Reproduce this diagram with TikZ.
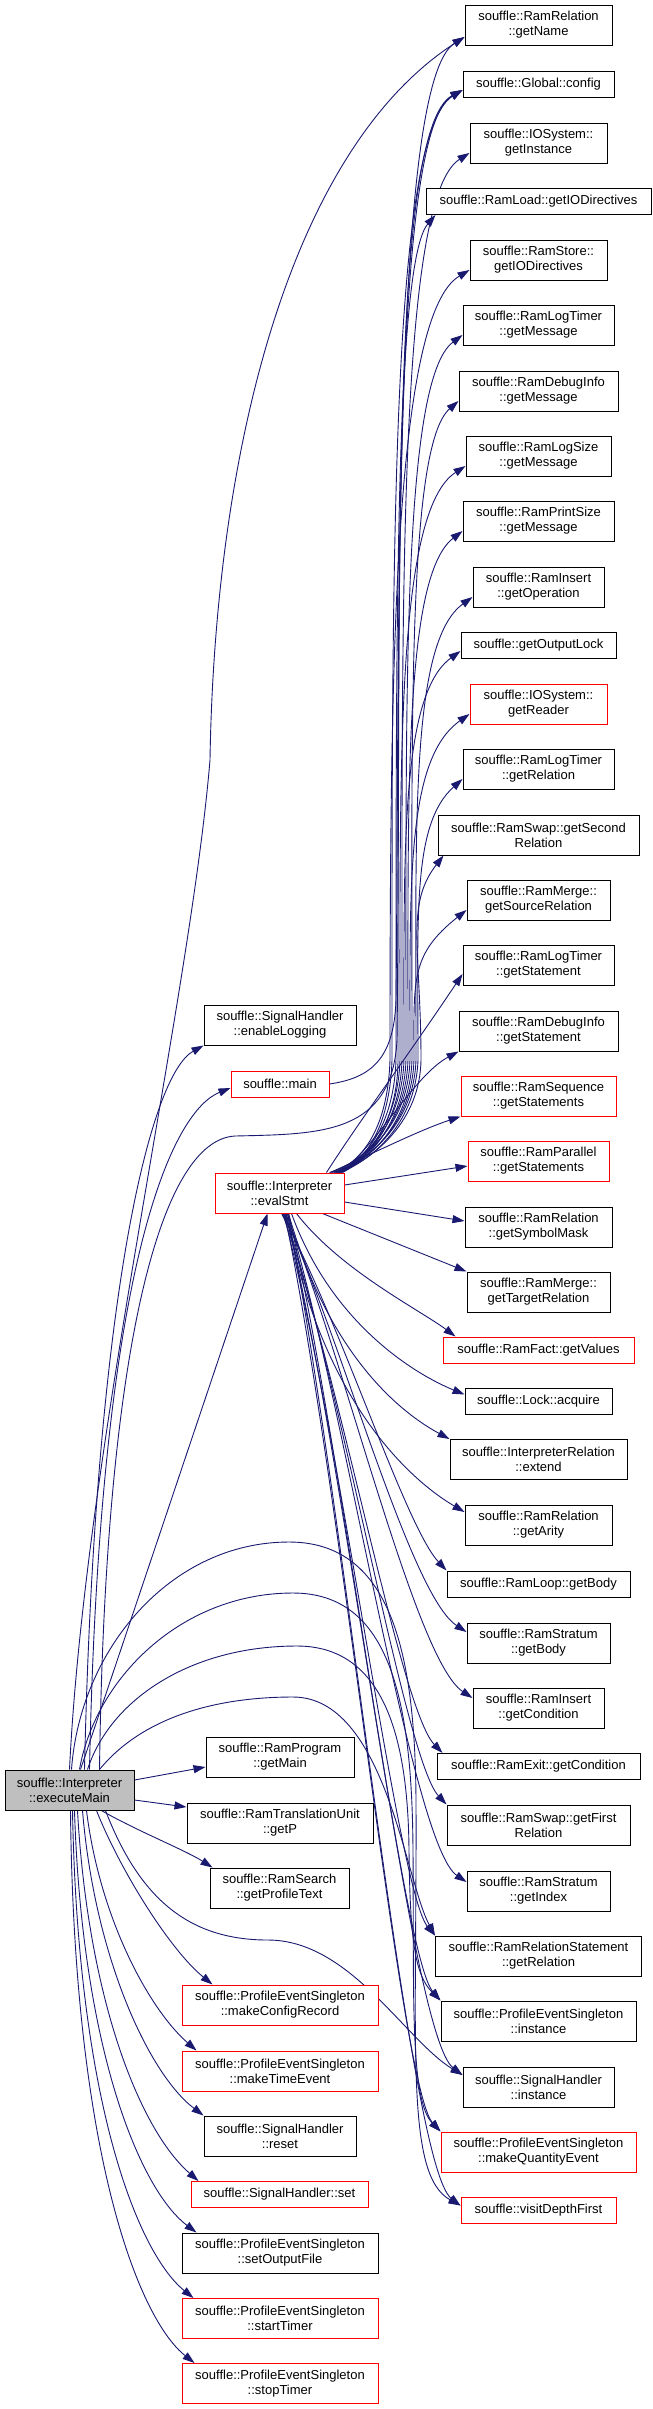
\documentclass[tikz,border=0pt]{standalone}
\usepackage{fontspec}
\setmainfont{Liberation Sans}
\usetikzlibrary{arrows.meta,backgrounds}
\definecolor{edgeblue}{HTML}{191970}
\definecolor{rootgrey}{HTML}{BFBFBF}
\newcommand{\nfont}{\fontsize{13pt}{15pt}\selectfont}
\begin{document}
\begin{tikzpicture}[x=1pt,y=-1pt,
 fn/.style={draw=black, line width=1pt, fill=white, font=\nfont, align=center, inner xsep=3pt, inner ysep=0pt, minimum height=26pt},
 two/.style={minimum height=40pt},
 trunc/.style={draw=red},
 root/.style={fill=rootgrey},
 wd/.style={minimum width=#1pt},
 call/.style={draw=edgeblue, line width=0.9pt, -{Triangle[length=12pt 0, width=8pt 0]}}
]
\useasboundingbox (0,0) rectangle (653,2409);

% right column
\node[fn,two,wd=147] (r1) at (538.5,25) {souffle::RamRelation\\::getName};
\node[fn,wd=151] (r2) at (538.5,84) {souffle::Global::config};
\node[fn,two,wd=137] (r3) at (538.5,143) {souffle::IOSystem::\\getInstance};
\node[fn,wd=225] (r4) at (538.5,201.5) {souffle::RamLoad::getIODirectives};
\node[fn,two,wd=137] (r5) at (538.5,260) {souffle::RamStore::\\getIODirectives};
\node[fn,two,wd=151] (r6) at (538.5,325) {souffle::RamLogTimer\\::getMessage};
\node[fn,two,wd=159] (r7) at (538.5,391) {souffle::RamDebugInfo\\::getMessage};
\node[fn,two,wd=145] (r8) at (538.5,456) {souffle::RamLogSize\\::getMessage};
\node[fn,two,wd=151] (r9) at (538.5,521) {souffle::RamPrintSize\\::getMessage};
\node[fn,two,wd=131] (r10) at (538.5,587) {souffle::RamInsert\\::getOperation};
\node[fn,wd=155] (r11) at (538.5,645) {souffle::getOutputLock};
\node[fn,two,trunc,wd=137] (r12) at (538.5,704) {souffle::IOSystem::\\getReader};
\node[fn,two,wd=151] (r13) at (538.5,769) {souffle::RamLogTimer\\::getRelation};
\node[fn,two,wd=201] (r14) at (538.5,835) {souffle::RamSwap::getSecond\\Relation};
\node[fn,two,wd=143] (r15) at (538.5,900) {souffle::RamMerge::\\getSourceRelation};
\node[fn,two,wd=151] (r16) at (538.5,965) {souffle::RamLogTimer\\::getStatement};
\node[fn,two,wd=159] (r17) at (538.5,1031) {souffle::RamDebugInfo\\::getStatement};
\node[fn,two,trunc,wd=155] (r18) at (538.5,1096) {souffle::RamSequence\\::getStatements};
\node[fn,two,trunc,wd=141] (r19) at (538.5,1161) {souffle::RamParallel\\::getStatements};
\node[fn,two,wd=147] (r20) at (538.5,1227) {souffle::RamRelation\\::getSymbolMask};
\node[fn,two,wd=143] (r21) at (538.5,1292) {souffle::RamMerge::\\getTargetRelation};
\node[fn,trunc,wd=191] (r22) at (538.5,1350) {souffle::RamFact::getValues};
\node[fn,wd=147] (r23) at (538.5,1401.5) {souffle::Lock::acquire};
\node[fn,two,wd=177] (r24) at (538.5,1459.5) {souffle::InterpreterRelation\\::extend};
\node[fn,two,wd=147] (r25) at (538.5,1525) {souffle::RamRelation\\::getArity};
\node[fn,wd=183] (r26) at (538.5,1584) {souffle::RamLoop::getBody};
\node[fn,two,wd=143] (r27) at (538.5,1643) {souffle::RamStratum\\::getBody};
\node[fn,two,wd=131] (r28) at (538.5,1708) {souffle::RamInsert\\::getCondition};
\node[fn,wd=203] (r29) at (538.5,1766.5) {souffle::RamExit::getCondition};
\node[fn,two,wd=183] (r30) at (538.5,1825) {souffle::RamSwap::getFirst\\Relation};
\node[fn,two,wd=143] (r31) at (538.5,1891) {souffle::RamStratum\\::getIndex};
\node[fn,two,wd=206] (r32) at (538.5,1956) {souffle::RamRelationStatement\\::getRelation};
\node[fn,two,wd=195] (r33) at (538.5,2021) {souffle::ProfileEventSingleton\\::instance};
\node[fn,two,wd=151] (r34) at (538.5,2087) {souffle::SignalHandler\\::instance};
\node[fn,two,trunc,wd=195] (r35) at (538.5,2152) {souffle::ProfileEventSingleton\\::makeQuantityEvent};
\node[fn,trunc,wd=155] (r36) at (538.5,2210.5) {souffle::visitDepthFirst};

% middle column
\node[fn,two,wd=152] (enLog) at (280,1025) {souffle::SignalHandler\\::enableLogging};
\node[fn,trunc,wd=98] (mainF) at (280,1084) {souffle::main};
\node[fn,two,trunc,wd=129] (eval) at (279.5,1193) {souffle::Interpreter\\::evalStmt};
\node[fn,two,wd=148] (getMain) at (280,1757) {souffle::RamProgram\\::getMain};
\node[fn,two,wd=186] (getP) at (280,1823) {souffle::RamTranslationUnit\\::getP};
\node[fn,two,wd=139] (profText) at (279.5,1888) {souffle::RamSearch\\::getProfileText};
\node[fn,two,trunc,wd=196] (cfgRec) at (280,2005) {souffle::ProfileEventSingleton\\::makeConfigRecord};
\node[fn,two,trunc,wd=196] (timeEv) at (280,2071) {souffle::ProfileEventSingleton\\::makeTimeEvent};
\node[fn,two,wd=152] (shReset) at (280,2136) {souffle::SignalHandler\\::reset};
\node[fn,trunc,wd=177] (shSet) at (279.5,2194.5) {souffle::SignalHandler::set};
\node[fn,two,wd=196] (outFile) at (280,2253) {souffle::ProfileEventSingleton\\::setOutputFile};
\node[fn,two,trunc,wd=196] (startT) at (280,2318.5) {souffle::ProfileEventSingleton\\::startTimer};
\node[fn,two,trunc,wd=196] (stopT) at (280,2383.5) {souffle::ProfileEventSingleton\\::stopTimer};

% root
\node[fn,two,root,wd=129] (exm) at (69.5,1790) {souffle::Interpreter\\::executeMain};

\begin{scope}[on background layer]
% evalStmt -> upper right nodes
\draw[call] ([xshift=-2pt]eval.north east) .. controls (370,1158) and (398,1120) .. (398,1060) .. controls (398,542) and (396,80) .. ([yshift=-12pt]r1.west);
\draw[call] ([xshift=-4pt]eval.north east) .. controls (370,1158) and (390,1120) .. (392,1060) .. controls (392,572) and (390,135) .. ([yshift=-6pt]r2.west);
\draw[call] ([xshift=-6pt]eval.north east) .. controls (372,1158) and (400,1120) .. (402,1060) .. controls (402,600) and (398,198) .. ([yshift=-10pt]r3.west);
\draw[call] ([xshift=-8pt]eval.north east) .. controls (370,1158) and (394,1120) .. (396,1060) .. controls (396,630) and (395,262) .. ([xshift=10pt]r4.south west);
\draw[call] ([xshift=-10pt]eval.north east) .. controls (368,1158) and (388,1120) .. (390,1060) .. controls (390,660) and (394,315) .. ([yshift=-10pt]r5.west);
\draw[call] ([xshift=-3pt]eval.north east) .. controls (372,1158) and (404,1120) .. (406,1060) .. controls (406,690) and (402,380) .. ([yshift=-10pt]r6.west);
\draw[call] ([xshift=-5pt]eval.north east) .. controls (374,1158) and (410,1120) .. (412,1060) .. controls (412,725) and (407,446) .. ([yshift=-10pt]r7.west);
\draw[call] ([xshift=-7pt]eval.north east) .. controls (370,1158) and (398,1120) .. (400,1060) .. controls (400,760) and (396,511) .. ([yshift=-10pt]r8.west);
\draw[call] ([xshift=-9pt]eval.north east) .. controls (372,1158) and (406,1120) .. (408,1060) .. controls (408,790) and (404,576) .. ([yshift=-10pt]r9.west);
\draw[call] ([xshift=-11pt]eval.north east) .. controls (374,1158) and (414,1120) .. (416,1060) .. controls (416,825) and (410,642) .. ([yshift=-10pt]r10.west);
\draw[call] ([xshift=-13pt]eval.north east) .. controls (370,1158) and (402,1120) .. (404,1060) .. controls (404,852) and (400,695) .. ([yshift=-6pt]r11.west);
\draw[call] ([xshift=-15pt]eval.north east) .. controls (372,1158) and (408,1120) .. (410,1060) .. controls (410,882) and (406,759) .. ([yshift=-10pt]r12.west);
\draw[call] ([xshift=-4pt]eval.north east) .. controls (376,1158) and (416,1120) .. (418,1060) .. controls (418,915) and (412,824) .. ([yshift=-10pt]r13.west);
\draw[call] ([xshift=-6pt]eval.north east) .. controls (376,1158) and (420,1120) .. (421,1060) .. controls (421,950) and (405,905) .. ([xshift=6pt]r14.south west);
\draw[call] ([xshift=-8pt]eval.north east) .. controls (374,1158) and (412,1120) .. (414,1060) .. controls (414,980) and (410,955) .. ([yshift=-10pt]r15.west);
\draw[call] ([xshift=-18pt]eval.north east) .. controls (360,1120) and (405,1060) .. ([yshift=-9pt]r16.west);
\draw[call] ([xshift=-3pt]eval.north east) .. controls (380,1140) and (415,1075) .. (r17.south west);
\draw[call] ([xshift=-14pt]eval.north east) .. controls (380,1150) and (420,1130) .. (r18.south west);
\draw[call] ([yshift=8pt]eval.east) -- ([yshift=-5pt]r19.west);
\draw[call] ([yshift=-9pt]eval.east) -- ([yshift=6pt]r20.west);
\draw[call] ([xshift=-22pt]eval.south east) -- (r21.north west);
\draw[call] ([xshift=17pt]eval.south) .. controls (340,1270) and (420,1310) .. ([xshift=13pt]r22.north west);
\draw[call] ([xshift=12pt]eval.south) .. controls (330,1320) and (410,1372) .. ([yshift=7pt]r23.west);
\draw[call] ([xshift=9pt]eval.south) .. controls (330,1360) and (405,1415) .. (r24.north west);
\draw[call] ([xshift=7pt]eval.south) .. controls (320,1400) and (410,1480) .. ([yshift=13pt]r25.west);
% evalStmt -> lower right nodes
\draw[call] ([xshift=2pt]eval.south) .. controls (340,1320) and (405,1526) .. (r26.north west);
\draw[call] ([xshift=4pt]eval.south) .. controls (342,1339) and (410,1595) .. ([yshift=11pt]r27.west);
\draw[call] ([xshift=6pt]eval.south) .. controls (345,1358) and (415,1660) .. ([yshift=10pt]r28.west);
\draw[call] ([xshift=3pt]eval.south) .. controls (340,1375) and (400,1709) .. ([xshift=6pt]r29.north west);
\draw[call] ([xshift=5pt]eval.south) .. controls (343,1391) and (405,1760) .. (r30.north west);
\draw[call] ([xshift=8pt]eval.south) .. controls (347,1414) and (412,1845) .. ([yshift=9pt]r31.west);
\draw[call] ([xshift=4pt]eval.south) .. controls (340,1430) and (398,1891) .. (r32.north west);
\draw[call] ([xshift=6pt]eval.south) .. controls (343,1450) and (402,1956) .. (r33.north west);
\draw[call] ([xshift=9pt]eval.south) .. controls (348,1472) and (410,2035) .. ([yshift=12pt]r34.west);
\draw[call] ([xshift=5pt]eval.south) .. controls (342,1489) and (400,2087) .. (r35.north west);
\draw[call] ([xshift=8pt]eval.south) .. controls (346,1511) and (408,2165) .. ([yshift=5pt]r36.west);

% souffle::main -> config
\draw[call] (mainF.east) .. controls (370,1078) and (394,1060) .. (396,1000) .. controls (400,600) and (392,130) .. ([yshift=-6pt]r2.west);

% executeMain -> upward
\draw[call] (exm.north) .. controls (85,1450) and (190,1000) .. (210,760) .. controls (215,450) and (290,150) .. ([yshift=-12pt]r1.west);
\draw[call] ([xshift=30pt]exm.north) .. controls (105,1350) and (160,1140) .. (235,1136) .. controls (320,1134) and (392,1135) .. (397,1040) .. controls (402,600) and (388,130) .. ([yshift=-6pt]r2.west);
\draw[call] ([xshift=15pt]exm.north) .. controls (95,1300) and (150,1075) .. (enLog.south west);
\draw[call] ([xshift=20pt]exm.north) .. controls (100,1250) and (175,1110) .. ([yshift=-4pt]mainF.west);
\draw[call] ([xshift=11pt]exm.north) -- ([xshift=-12pt]eval.south);

% executeMain -> arcs to lower right nodes
\draw[call] ([xshift=2pt]exm.north) .. controls (80,1650) and (170,1542) .. (289,1542) .. controls (390,1542) and (415,1650) .. (416,1800) .. controls (417,2050) and (405,2175) .. ([yshift=5pt]r36.west);
\draw[call] ([xshift=10pt]exm.north) .. controls (95,1680) and (180,1593) .. (293,1593) .. controls (390,1593) and (412,1700) .. (413,1850) .. controls (414,2000) and (410,2100) .. (r35.north west);
\draw[call] ([xshift=18pt]exm.north) .. controls (110,1700) and (190,1646) .. (297,1646) .. controls (385,1646) and (408,1740) .. (409,1850) .. controls (410,1940) and (415,1975) .. (r33.north west);
\draw[call] ([xshift=30pt]exm.north) .. controls (140,1720) and (210,1697) .. (293,1697) .. controls (385,1697) and (405,1880) .. (r32.north west);
\draw[call] ([xshift=36pt]exm.south) .. controls (140,1900) and (190,1940) .. (268,1940) .. controls (350,1940) and (405,2040) .. ([yshift=12pt]r34.west);

% executeMain -> middle column
\draw[call] ([yshift=10pt]exm.east) -- ([yshift=-10pt]getMain.west);
\draw[call] ([yshift=-10pt]exm.east) -- ([yshift=16pt]getP.west);
\draw[call] ([xshift=32pt]exm.south) .. controls (135,1830) and (185,1850) .. ([xshift=3pt]profText.north west);
\draw[call] ([xshift=27pt]exm.south) .. controls (120,1870) and (170,1950) .. ([xshift=31pt]cfgRec.north west);
\draw[call] ([xshift=17pt]exm.south) .. controls (100,1920) and (150,2010) .. ([xshift=15pt]timeEv.north west);
\draw[call] ([xshift=13pt]exm.south) .. controls (95,1960) and (150,2075) .. (shReset.north west);
\draw[call] ([xshift=8pt]exm.south) .. controls (88,2000) and (140,2130) .. ([xshift=8pt]shSet.north west);
\draw[call] ([xshift=5pt]exm.south) .. controls (82,2050) and (140,2190) .. ([xshift=15pt]outFile.north west);
\draw[call] ([xshift=3pt]exm.south) .. controls (78,2110) and (140,2255) .. ([xshift=12pt]startT.north west);
\draw[call] ([xshift=1pt]exm.south) .. controls (74,2160) and (140,2320) .. ([xshift=13pt]stopT.north west);
\end{scope}
\end{tikzpicture}
\end{document}
